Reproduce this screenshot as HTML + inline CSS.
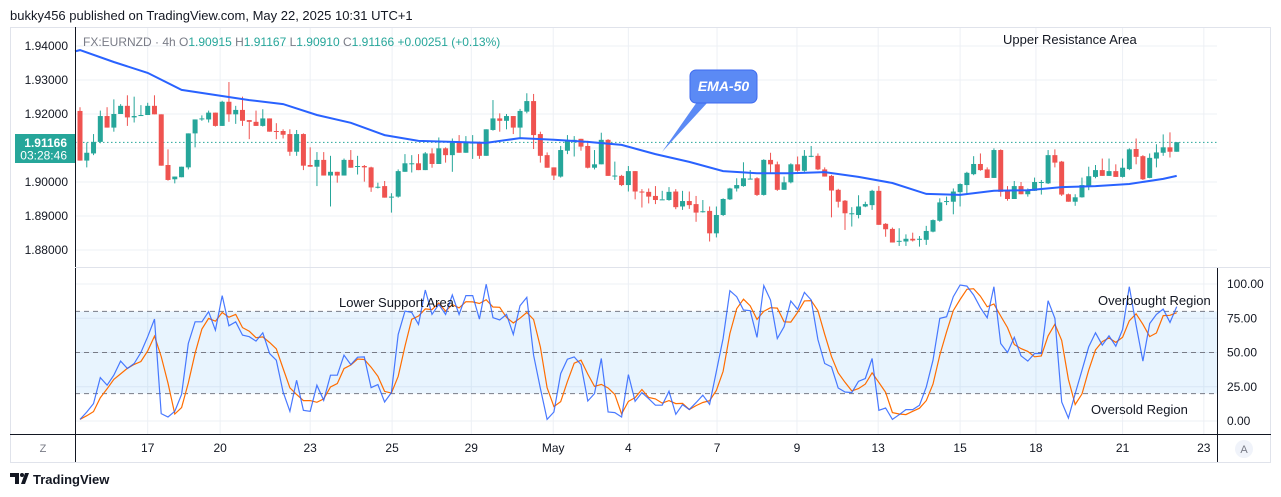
<!DOCTYPE html>
<html><head><meta charset="utf-8"><title>EURNZD 4h chart</title>
<style>
html,body{margin:0;padding:0;background:#fff;}
svg{display:block;font-family:"Liberation Sans",sans-serif;}
</style></head>
<body>
<svg id="chart" width="1281" height="497" viewBox="0 0 1281 497" xmlns="http://www.w3.org/2000/svg">
  <text x="10" y="20" font-size="13" fill="#131722">bukky456 published on TradingView.com, May 22, 2025 10:31 UTC+1</text>
  <rect x="10.5" y="27.5" width="1260" height="435" fill="#fff" stroke="#e0e3eb"/>
  <g id="grid"></g>
  <rect id="band" fill="#2196f3" fill-opacity="0.1"/>
  <g id="stochLines"></g>
  <line x1="75" y1="142.4" x2="1217" y2="142.4" stroke="#26a69a" stroke-width="1" stroke-dasharray="1.5,2.5"/>
  <g id="candles"></g>
  <path id="ema" fill="none" stroke="#2962ff" stroke-width="2"/>
  <path id="dline" fill="none" stroke="#ff6d00" stroke-width="1.2"/>
  <path id="kline" fill="none" stroke="#2962ff" stroke-width="1.2" stroke-opacity="0.85"/>
  <line x1="75.5" y1="27" x2="75.5" y2="462" stroke="#131722" stroke-width="1"/>
  <line x1="1217.5" y1="268" x2="1217.5" y2="462" stroke="#131722" stroke-width="1"/>
  <line x1="10" y1="434.5" x2="1271" y2="434.5" stroke="#131722" stroke-width="1"/>
  <line x1="75" y1="267.5" x2="1271" y2="267.5" stroke="#e0e3eb" stroke-width="1"/>
  <g id="priceAxis"></g>
  <g id="stochAxis"></g>
  <g id="timeAxis"></g>
  <text x="83" y="46" font-size="12" fill="#787b86">FX:EURNZD · 4h  O<tspan fill="#26a69a">1.90915</tspan>  H<tspan fill="#26a69a">1.91167</tspan>  L<tspan fill="#26a69a">1.90910</tspan>  C<tspan fill="#26a69a">1.91166</tspan>  <tspan fill="#26a69a">+0.00251 (+0.13%)</tspan></text>
  <g>
    <rect x="15" y="134" width="60" height="29" fill="#26a69a"/>
    <text x="67" y="147" font-size="12" font-weight="bold" fill="#fff" text-anchor="end">1.91166</text>
    <text x="67" y="159.5" font-size="12" fill="#fff" text-anchor="end">03:28:46</text>
  </g>
  <g>
    <path d="M697,102 L662,152 L708,102 Z" fill="#5b8af5"/>
    <rect x="690" y="70" width="67" height="33" rx="6" fill="#5b8af5" stroke="#3d6af0" stroke-width="1"/>
    <text x="723.5" y="91" font-size="14" font-style="italic" font-weight="bold" fill="#fff" text-anchor="middle">EMA-50</text>
  </g>
  <text x="1003" y="44" font-size="13" fill="#131722">Upper Resistance Area</text>
  <text x="339" y="307" font-size="13" fill="#131722">Lower Support Area</text>
  <text x="1098" y="305" font-size="13" fill="#131722">Overbought Region</text>
  <text x="1091" y="414" font-size="13" fill="#131722">Oversold Region</text>
  <text x="43" y="452" font-size="11" fill="#787b86" text-anchor="middle">Z</text>
  <g>
    <circle cx="1244" cy="449" r="9" fill="#f0f3fa"/>
    <text x="1244" y="453" font-size="11" fill="#787b86" text-anchor="middle">A</text>
  </g>
  <g>
    <path d="M10,473 h9 v11 h-4 v-7 h-5 z M21,484 l4,-11 h4 l-4,11 z" fill="#131722"/>
    <circle cx="22" cy="475" r="2" fill="#131722"/>
    <text x="33" y="484" font-size="13" font-weight="bold" fill="#131722">TradingView</text>
  </g>
</svg>
<script>
const opens=[1.9209,1.9063,1.9084,1.9118,1.9194,1.9160,1.9200,1.9224,1.9190,1.9194,
1.9197,1.9224,1.9199,1.9050,1.9008,1.9014,1.9043,1.9143,1.9184,1.9184,
1.9204,1.9165,1.9236,1.9199,1.9212,1.9182,1.9177,1.9165,1.9187,1.9150,
1.9150,1.9141,1.9089,1.9141,1.9050,1.9045,1.9065,1.9019,1.9030,1.9019,
1.9065,1.9045,1.9047,1.9043,1.8986,1.8988,1.8957,1.8957,1.9030,1.9055,
1.9055,1.9035,1.9084,1.9053,1.9099,1.9079,1.9116,1.9086,1.9116,1.9116,
1.9077,1.9153,1.9187,1.9180,1.9194,1.9160,1.9207,1.9238,1.9141,1.9079,
1.9043,1.9016,1.9092,1.9121,1.9127,1.9106,1.9042,1.9052,1.9124,1.9019,
1.9018,1.8991,1.9032,1.8972,1.8971,1.8959,1.8949,1.8947,1.8972,1.8928,
1.8944,1.8935,1.8914,1.8915,1.8849,1.8903,1.8949,1.8981,1.8988,1.9010,
1.9011,1.8962,1.9065,1.9052,1.8977,1.8999,1.9052,1.9033,1.9077,1.9077,
1.9037,1.9018,1.8977,1.8945,1.8908,1.8903,1.8928,1.8932,1.8974,1.8877,
1.8862,1.8827,1.8825,1.8833,1.8833,1.8830,1.8854,1.8886,1.8944,1.8942,
1.8970,1.8991,1.9023,1.9053,1.9037,1.9012,1.9094,1.8973,1.8950,1.8988,
1.8964,1.8974,1.9000,1.8996,1.9079,1.9060,1.8964,1.8942,1.8955,1.8988,
1.9015,1.9035,1.9018,1.9032,1.9015,1.9038,1.9097,1.9076,1.9012,1.9069,
1.9086,1.9102,1.9089];
const highs=[1.9220,1.9116,1.9141,1.9210,1.9220,1.9243,1.9229,1.9255,1.9251,1.9226,
1.9233,1.9255,1.9199,1.9096,1.9016,1.9045,1.9143,1.9184,1.9196,1.9210,
1.9204,1.9239,1.9294,1.9224,1.9251,1.9182,1.9210,1.9214,1.9187,1.9173,
1.9155,1.9155,1.9153,1.9143,1.9102,1.9088,1.9088,1.9077,1.9030,1.9069,
1.9094,1.9077,1.9050,1.9045,1.8998,1.9003,1.8967,1.9037,1.9082,1.9079,
1.9082,1.9088,1.9099,1.9131,1.9102,1.9128,1.9138,1.9135,1.9138,1.9119,
1.9155,1.9241,1.9202,1.9200,1.9194,1.9215,1.9261,1.9259,1.9148,1.9087,
1.9043,1.9106,1.9138,1.9135,1.9127,1.9121,1.9094,1.9145,1.9126,1.9060,
1.9021,1.9047,1.9032,1.8979,1.8981,1.8988,1.8974,1.8985,1.8979,1.8974,
1.8972,1.8959,1.8947,1.8928,1.8928,1.8952,1.8983,1.9011,1.9058,1.9035,
1.9014,1.9067,1.9086,1.9060,1.9016,1.9055,1.9075,1.9094,1.9106,1.9084,
1.9043,1.9021,1.8980,1.8947,1.8926,1.8961,1.8942,1.8977,1.8988,1.8879,
1.8866,1.8864,1.8846,1.8851,1.8841,1.8871,1.8890,1.8952,1.8957,1.8981,
1.8996,1.9030,1.9076,1.9084,1.9043,1.9099,1.9096,1.8988,1.9003,1.9000,
1.8981,1.9013,1.9006,1.9094,1.9096,1.9062,1.8966,1.8964,1.9013,1.9045,
1.9050,1.9069,1.9069,1.9052,1.9069,1.9099,1.9128,1.9079,1.9084,1.9111,
1.9140,1.9146,1.9117];
const lows=[1.9063,1.9043,1.9079,1.9114,1.9160,1.9148,1.9200,1.9165,1.9175,1.9194,
1.9197,1.9199,1.9048,1.9004,1.8996,1.9014,1.9037,1.9102,1.9180,1.9175,
1.9163,1.9165,1.9177,1.9171,1.9165,1.9126,1.9165,1.9163,1.9148,1.9126,
1.9128,1.9077,1.9077,1.9035,1.9045,1.8988,1.9019,1.8928,1.8998,1.9019,
1.9042,1.9022,1.9001,1.8971,1.8981,1.8954,1.8910,1.8954,1.9030,1.9028,
1.9035,1.9035,1.9042,1.9053,1.9057,1.9030,1.9086,1.9086,1.9068,1.9068,
1.9077,1.9151,1.9148,1.9155,1.9141,1.9131,1.9202,1.9097,1.9057,1.9042,
1.9006,1.9013,1.9082,1.9075,1.9092,1.9040,1.9037,1.9052,1.9018,1.9006,
1.8988,1.8972,1.8949,1.8925,1.8937,1.8935,1.8949,1.8945,1.8920,1.8918,
1.8921,1.8883,1.8910,1.8825,1.8837,1.8900,1.8947,1.8972,1.8986,1.9008,
1.8959,1.8960,1.9026,1.8974,1.8977,1.8996,1.9030,1.9030,1.9073,1.9035,
1.9016,1.8896,1.8925,1.8859,1.8869,1.8893,1.8926,1.8918,1.8874,1.8839,
1.8822,1.8812,1.8812,1.8825,1.8810,1.8815,1.8852,1.8883,1.8932,1.8905,
1.8928,1.8966,1.9020,1.9033,1.9012,1.9012,1.8957,1.8945,1.8950,1.8964,
1.8957,1.8974,1.8963,1.8994,1.9043,1.8959,1.8942,1.8930,1.8954,1.8976,
1.9011,1.9018,1.9018,1.9015,1.9013,1.9035,1.9052,1.9006,1.9011,1.9043,
1.9077,1.9072,1.9089];
const closes=[1.9063,1.9086,1.9118,1.9194,1.9160,1.9200,1.9224,1.9190,1.9194,1.9197,
1.9224,1.9199,1.9048,1.9006,1.9016,1.9045,1.9143,1.9184,1.9187,1.9204,
1.9165,1.9236,1.9199,1.9212,1.9180,1.9177,1.9165,1.9187,1.9148,1.9148,
1.9139,1.9089,1.9141,1.9048,1.9045,1.9065,1.9019,1.9030,1.9019,1.9065,
1.9042,1.9047,1.9043,1.8984,1.8986,1.8954,1.8957,1.9032,1.9055,1.9055,
1.9035,1.9084,1.9053,1.9099,1.9079,1.9116,1.9086,1.9116,1.9116,1.9077,
1.9155,1.9187,1.9180,1.9194,1.9160,1.9209,1.9238,1.9138,1.9077,1.9042,
1.9019,1.9094,1.9121,1.9124,1.9104,1.9042,1.9052,1.9124,1.9018,1.9019,
1.8991,1.9032,1.8972,1.8969,1.8957,1.8947,1.8949,1.8971,1.8926,1.8944,
1.8932,1.8910,1.8914,1.8849,1.8903,1.8950,1.8981,1.8991,1.9011,1.9010,
1.8962,1.9065,1.9052,1.8977,1.8999,1.9052,1.9033,1.9077,1.9077,1.9037,
1.9016,1.8975,1.8942,1.8908,1.8908,1.8928,1.8935,1.8974,1.8874,1.8861,
1.8822,1.8827,1.8833,1.8828,1.8833,1.8856,1.8888,1.8940,1.8944,1.8972,
1.8994,1.9027,1.9053,1.9035,1.9012,1.9094,1.8971,1.8950,1.8988,1.8964,
1.8976,1.9000,1.9000,1.9079,1.9057,1.8963,1.8942,1.8955,1.8991,1.9017,
1.9035,1.9018,1.9032,1.9015,1.9042,1.9096,1.9074,1.9008,1.9071,1.9087,
1.9102,1.9089,1.9117];
const emaIdx=[0,5,10,15,20,25,30,35,40,45,50,55,60,65,70,75,80,85,90,95,100,105,110,115,120,125,130,135,140,145,150,155,160,162];
const emaVals=[1.9388,1.9353,1.9321,1.9271,1.9256,1.9241,1.9229,1.9197,1.9174,1.9138,1.9121,1.9118,1.9115,1.9129,1.9124,1.9118,1.9109,1.9082,1.9059,1.9032,1.9026,1.9026,1.9029,1.9015,1.8997,1.8965,1.8962,1.8974,1.8976,1.8985,1.8988,1.8994,1.9009,1.9018];
const stochK=[1.2,6.6,12.7,31.7,26.1,33.4,43.7,38.3,42,50,
61.5,74.4,5.4,2.9,7.1,19.5,56.6,72.4,72.4,79.8,
66.3,91.5,69.5,72.4,62.7,61.5,58.3,64.4,49.3,44.4,
21.2,7.1,29.8,7.8,7.1,26.1,15.1,33.4,33.4,48,
41.2,46.6,46.8,24.4,26.6,13.9,20.7,63.2,80.2,79.3,
70.5,95.6,77.8,85.1,77.8,92,77.8,91.5,91.5,74.4,
99.8,75.4,73.7,77.8,63.2,84.1,90.2,48,23.7,1.2,
6.6,34.6,45.1,46.8,41.2,14.6,20,45.6,6.6,6.1,
2.9,33.9,14.4,20.7,16.3,11.5,11.5,21.7,4.9,12,
8.3,13.4,18.8,12.2,36.3,60.2,95.1,90.7,81,80.5,
61,98.8,88.3,60.2,68.8,87.6,81.5,93.9,88.3,59.5,
42,39.5,24.1,21.2,20.7,29,31,45.6,7.8,9.5,
1.2,4.6,8.3,8.3,11.5,24.9,44.4,74.9,76.1,90.7,
99.3,98.5,92,82.7,75.4,98,56.6,50,61,47.6,
43.7,49.3,49.3,87.8,74.9,13.9,2.2,20,37.1,54.1,
64.4,55.4,62.2,54.6,66.8,98,70,43.7,71.2,77.8,
81.7,72,83.4];
const priceTicks=[1.94,1.93,1.92,1.91,1.90,1.89,1.88];
const stochTicks=[100,75,50,25,0];
const stochLevels=[80,50,20];
const timeLabels=["17","20","23","25","29","May","4","7","9","13","15","18","21","23"];
const timeTickIdx=[10,20.7,34,46.1,57.8,69.9,81,94.1,105.9,117.9,130,141.2,154,166];

const NS="http://www.w3.org/2000/svg";
const xOf=i=>80+i*6.77;
const yP=p=>46+(1.94-p)*3400;
const yS=v=>421-v*1.37;
function mk(tag,attrs,parent){const e=document.createElementNS(NS,tag);for(const k in attrs)e.setAttribute(k,attrs[k]);parent.appendChild(e);return e;}

const grid=document.getElementById('grid');
priceTicks.forEach(p=>{const l=mk('line',{x1:75,x2:1217,y1:yP(p),y2:yP(p),stroke:'#edf0f5'},grid);

});
stochTicks.forEach(v=>{const l=mk('line',{x1:75,x2:1217,y1:yS(v),y2:yS(v),stroke:'#edf0f5'},grid);

});
timeTickIdx.forEach(t=>{const l=mk('line',{x1:xOf(t),x2:xOf(t),y1:28,y2:434,stroke:'#edf0f5'},grid);

});

const band=document.getElementById('band');
band.setAttribute('x',75);band.setAttribute('width',1142);
band.setAttribute('y',yS(80));band.setAttribute('height',yS(20)-yS(80));
const sl=document.getElementById('stochLines');
stochLevels.forEach(v=>{const l=mk('line',{x1:75,x2:1217,y1:yS(v),y2:yS(v),stroke:'#787b86','stroke-dasharray':'5,4'},sl);

});

const cg=document.getElementById('candles');
for(let i=0;i<opens.length;i++){
  const up=closes[i]>=opens[i];const col=up?'#26a69a':'#ef5350';
  const g=mk('g',{},cg);
  
  
  const x=xOf(i);
  mk('line',{x1:x,x2:x,y1:yP(highs[i]),y2:yP(lows[i]),stroke:col,'stroke-width':1},g);
  const top=yP(Math.max(opens[i],closes[i]));const h=Math.max(1,Math.abs(yP(opens[i])-yP(closes[i])));
  mk('rect',{x:x-2.5,y:top,width:5,height:h,fill:col},g);
}
let d='M75,'+yP(emaVals[0]-0.0004).toFixed(1);
emaIdx.forEach((ix,k)=>{d+=' L'+xOf(ix).toFixed(1)+','+yP(emaVals[k]).toFixed(1);});
document.getElementById('ema').setAttribute('d',d);

let dk='',dd='';
for(let i=0;i<stochK.length;i++){
  dk+=(i?' L':'M')+xOf(i).toFixed(1)+','+yS(stochK[i]).toFixed(1);
  const s=stochK.slice(Math.max(0,i-2),i+1);const m=s.reduce((a,b)=>a+b,0)/s.length;
  dd+=(i?' L':'M')+xOf(i).toFixed(1)+','+yS(m).toFixed(1);
}
document.getElementById('kline').setAttribute('d',dk);
document.getElementById('dline').setAttribute('d',dd);

const pa=document.getElementById('priceAxis');
priceTicks.forEach(p=>{if(Math.abs(p-1.91)<1e-9)return;const t=mk('text',{x:68,y:yP(p)+4,'font-size':12,fill:'#131722','text-anchor':'end'},pa);t.textContent=p.toFixed(5);

});
const sa=document.getElementById('stochAxis');
stochTicks.forEach(v=>{const t=mk('text',{x:1227,y:yS(v)+4,'font-size':12,fill:'#131722'},sa);t.textContent=v.toFixed(2);

});
const ta=document.getElementById('timeAxis');
timeLabels.forEach((s,k)=>{const t=mk('text',{x:xOf(timeTickIdx[k]),y:452,'font-size':12,fill:'#131722','text-anchor':'middle'},ta);t.textContent=s;

});
</script>
</body></html>
